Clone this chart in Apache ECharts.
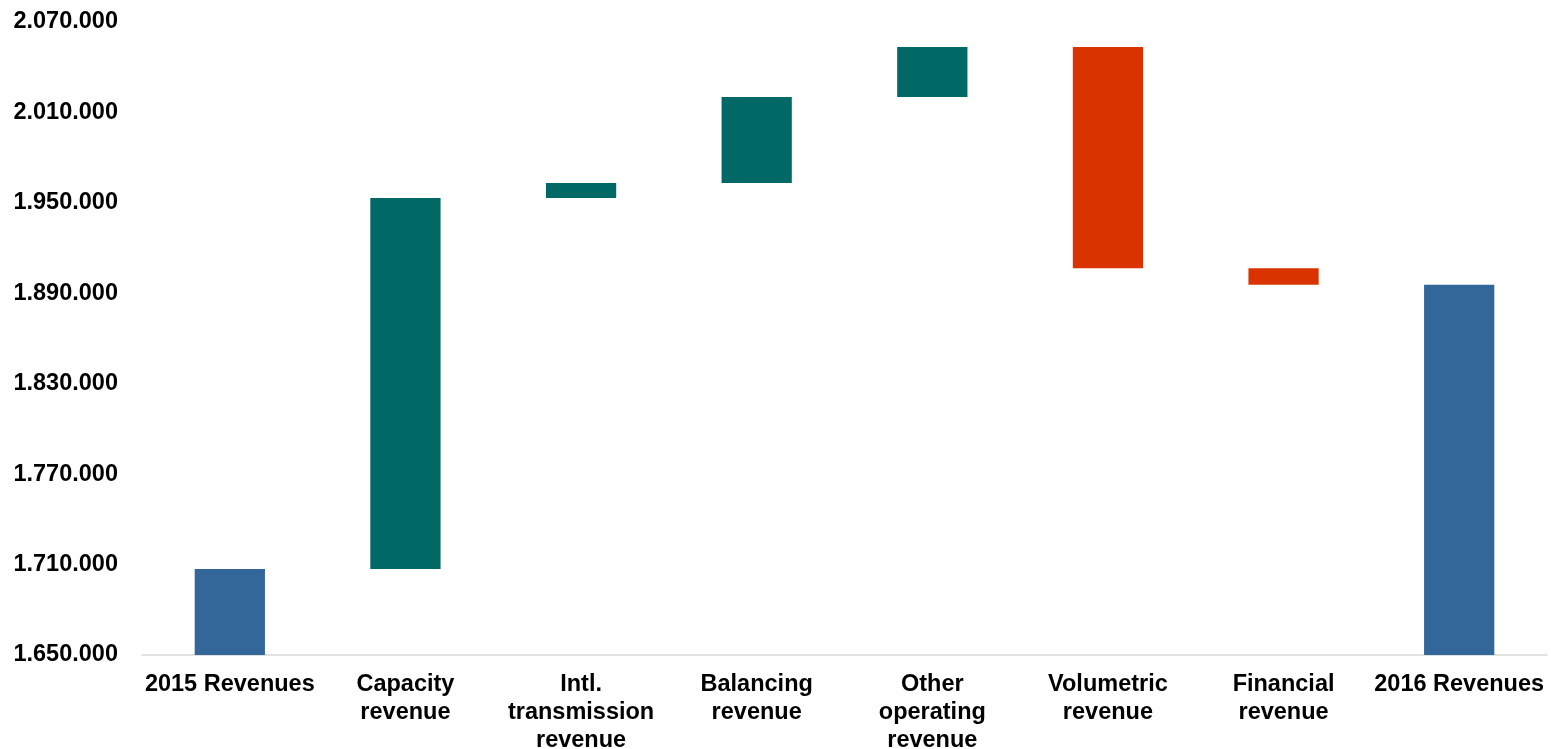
<!DOCTYPE html>
<html lang="en">
<head>
    <meta charset="utf-8">
    <title>Revenues 2015 - 2016</title>
    <script src="https://cdn.jsdelivr.net/npm/echarts@6/dist/echarts.min.js"></script>
    <style>
        html, body { margin: 0; padding: 0; background: #fff; }
        #chart { width: 1551px; height: 749px; }
    </style>
</head>
<body>
    <div id="chart"></div>
    <script type="text/javascript">
        // categories (line breaks as in the original)
        var categories = ['2015 Revenues', 'Capacity\nrevenue', 'Intl.\ntransmission\nrevenue', 'Balancing\nrevenue',
            'Other\noperating\nrevenue', 'Volumetric\nrevenue', 'Financial\nrevenue', '2016 Revenues'];
        var startValue = 1707000;
        // changes between the two totals
        var changes = [246200, 10000, 57000, 33200, -146800, -10900];
        var yTicks = { min: 1650000, max: 2070000, step: 60000 };

        var colBlue = '#336699', colUp = '#006966', colDown = '#d93400';

        // build the waterfall: invisible base + visible part
        var base = [], visible = [], colors = [];
        var run = startValue;
        base.push(0); visible.push(startValue); colors.push(colBlue);
        changes.forEach(function (c) {
            var next = run + c;
            base.push(Math.min(run, next));
            visible.push(Math.abs(c));
            colors.push(c >= 0 ? colUp : colDown);
            run = next;
        });
        base.push(0); visible.push(run); colors.push(colBlue);

        // bars sitting on the axis start at the axis min
        var lowData = base.map(function (b) { return b === 0 ? yTicks.min : b; });
        var highData = visible.map(function (v, i) { return base[i] === 0 ? v - yTicks.min : v; });

        function fmt(v) {
            return String(Math.round(v)).replace(/\B(?=(\d{3})+(?!\d))/g, '.');
        }

        var labelFont = { fontFamily: 'Liberation Sans, Arial, sans-serif', fontWeight: 'bold', fontSize: 23.5, color: '#000' };

        var chart = echarts.init(document.getElementById('chart'));
        chart.setOption({
            backgroundColor: '#fff',
            animation: false,
            grid: { left: 142, right: 4, top: 22, bottom: 94, containLabel: false, outerBoundsMode: 'none' },
            xAxis: {
                type: 'category',
                data: categories,
                axisLine: { lineStyle: { color: '#d9d9d9', width: 1.5 } },
                axisTick: { show: false },
                axisLabel: Object.assign({ interval: 0, margin: 16, lineHeight: 28 }, labelFont)
            },
            yAxis: {
                type: 'value',
                min: yTicks.min,
                max: yTicks.max,
                interval: yTicks.step,
                axisLine: { show: false },
                axisTick: { show: false },
                splitLine: { show: false },
                axisLabel: Object.assign({ margin: 24, padding: [6, 0, 0, 0], formatter: fmt }, labelFont)
            },
            series: [
                {
                    type: 'bar',
                    stack: 'wf',
                    silent: true,
                    itemStyle: { color: 'transparent' },
                    data: lowData,
                    barWidth: '40%'
                },
                {
                    type: 'bar',
                    stack: 'wf',
                    data: highData.map(function (v, i) {
                        return { value: v, itemStyle: { color: colors[i] } };
                    }),
                    barWidth: '40%'
                }
            ]
        });
    </script>
</body>
</html>
